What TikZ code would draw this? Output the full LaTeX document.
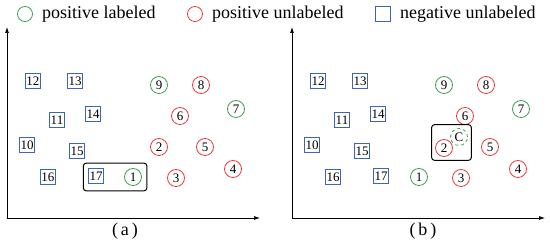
\documentclass[tikz,border=0pt]{standalone}
\usepackage{fontspec}
\setmainfont{Liberation Serif}
\usepackage{xcolor}
\usetikzlibrary{arrows.meta, positioning, fit}
\definecolor{posgreen}{RGB}{60,160,80}
\definecolor{posred}{RGB}{232,60,60}
\definecolor{negblue}{RGB}{60,100,185}
\begin{document}
\begin{tikzpicture}[x=1pt, y=-1pt,
    poslab/.style={circle, draw=posgreen, line width=0.8pt, minimum size=17pt, inner sep=0pt, font=\fontsize{13}{13}\selectfont},
    posunl/.style={circle, draw=posred, line width=0.8pt, minimum size=17pt, inner sep=0pt, font=\fontsize{13}{13}\selectfont},
    negunl/.style={rectangle, draw=negblue, line width=0.9pt, minimum size=14.5pt, inner sep=0pt, font=\fontsize{13}{13}\selectfont},
    axis/.style={line width=0.7pt, -{Latex[length=6pt,width=4pt]}},
    group/.style={draw, rounded corners=3pt, line width=1pt},
    legtext/.style={anchor=west, inner sep=0pt, font=\fontsize{18}{20}\selectfont}]
    \useasboundingbox (0,0) rectangle (550,245);
    % legend
    \node[poslab, minimum size=15pt] (lpos) at (25,14) {};
    \node[legtext] (tpos) at (42,14) {positive labeled};
    \node[posunl, minimum size=15pt] (lunl) at (195,14) {};
    \node[legtext] (tunl) at (212,14) {positive unlabeled};
    \node[negunl, minimum size=15pt] (lneg) at (383,14) {};
    \node[legtext] (tneg) at (400,14) {negative unlabeled};
    % both panels
    \foreach \p/\dx in {a/0, b/285} {
      \coordinate (o\p) at (7+\dx,218);
      \coordinate (y\p) at (7+\dx,27);
      \coordinate (x\p) at (260+\dx,218);
      \draw[axis] (o\p) -- (y\p);
      \draw[axis] (o\p) -- (x\p);
      \foreach \n/\x/\y in {10/27/145, 11/57/120, 12/33/81, 13/75/81, 14/93/114, 15/77/151, 16/48/177, 17/96/176}
        \node[negunl] (\p\n) at (\x+\dx,\y) {\n};
      \foreach \n/\x/\y in {9/159/85, 7/236/109}
        \node[poslab] (\p\n) at (\x+\dx,\y) {\n};
      \foreach \n/\x/\y in {8/201/85, 6/180/116, 5/205/147, 4/233/169, 3/176/178}
        \node[posunl] (\p\n) at (\x+\dx,\y) {\n};
    }
    % panel (a)
    \node[poslab] (a1) at (133,177) {1};
    \node[posunl] (a2) at (159,147) {2};
    \node[group, fit=(a17)(a1), inner sep=5pt] (ga) {};
    \node[font=\fontsize{18}{18}\selectfont] (capa) at (125,231) {(\,a\,)};
    % panel (b)
    \node[poslab] (b1) at (419,177) {1};
    \node[posunl] (b2) at (444,148) {2};
    \node[poslab, dashed] (bc) at (459,137) {C};
    \node[group, fit=(b2)(bc), inner sep=3.5pt] (gb) {};
    \node[font=\fontsize{18}{18}\selectfont] (capb) at (423,231) {(\,b\,)};
\end{tikzpicture}
\end{document}
